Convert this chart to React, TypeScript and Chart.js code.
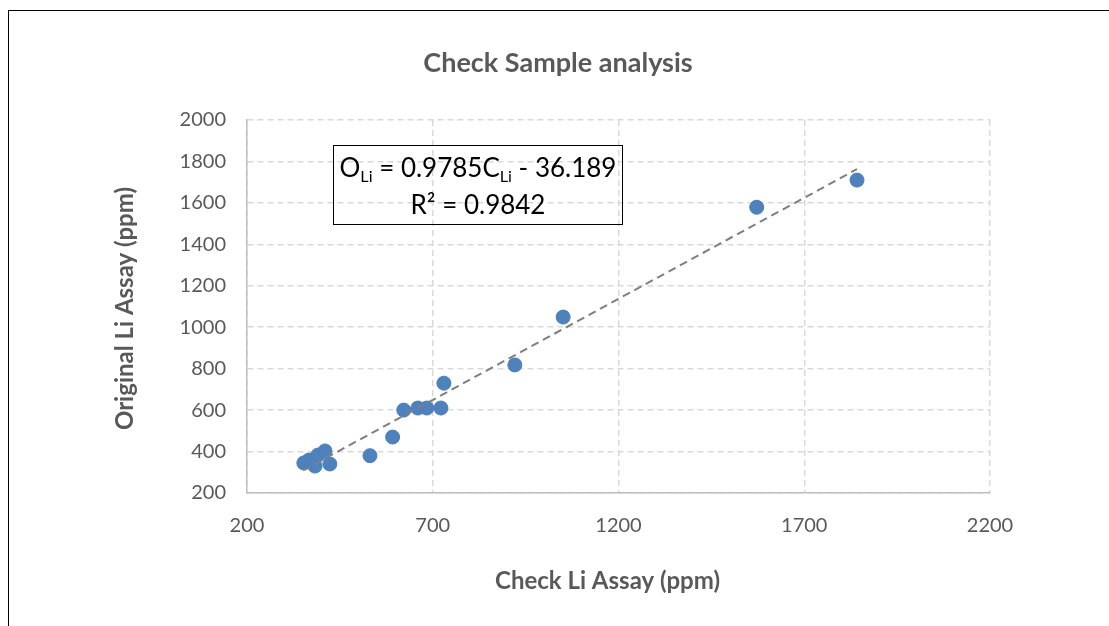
import React, { useEffect, useRef } from 'react';
import { Chart, registerables } from 'chart.js';

Chart.register(...registerables);

// values
const checkLi = [353, 367, 383, 391, 410, 423, 531, 592, 622, 660, 684, 722, 730, 921, 1051, 1572, 1842];
const originalLi = [345, 359, 330, 383, 403, 340, 380, 470, 600, 610, 610, 610, 730, 818, 1049, 1579, 1710];

// trendline end points (as drawn)
const trendX = [351, 1842];
const trendY = [309, 1763];

const xTicks = [200, 700, 1200, 1700, 2200];
const yTicks = [200, 400, 600, 800, 1000, 1200, 1400, 1600, 1800, 2000];

const chartTitle = 'Check Sample analysis';
const xTitle = 'Check Li Assay (ppm)';
const yTitle = 'Original Li Assay (ppm)';

const FONT = 'Lato, "Open Sans", sans-serif';

const titlesPlugin = {
  id: 'excelTitles',
  afterDraw(chart: Chart) {
    const { ctx, chartArea } = chart;
    ctx.save();
    ctx.fillStyle = '#595959';
    ctx.textAlign = 'center';
    ctx.textBaseline = 'middle';
    ctx.font = `bold 27px ${FONT}`;
    ctx.fillText(chartTitle, 558, 63);
    ctx.font = `bold 24px ${FONT}`;
    ctx.fillText(xTitle, chartArea.left + chartArea.width / 2 - 11, 581);
    ctx.translate(125, chartArea.top + chartArea.height / 2 + 2);
    ctx.rotate(-Math.PI / 2);
    ctx.fillText(yTitle, 0, 0);
    ctx.restore();
  }
};

const App = () => {
  const canvasRef = useRef<HTMLCanvasElement | null>(null);
  const chartRef = useRef<Chart | null>(null);

  useEffect(() => {
    document.body.style.margin = '0';
    document.body.style.overflow = 'hidden';
    const ctx = canvasRef.current!.getContext('2d');
    if (!ctx) return;

    chartRef.current = new Chart(ctx, {
      type: 'scatter',
      data: {
        datasets: [
          {
            type: 'line',
            label: 'Linear trend',
            data: trendX.map((x, i) => ({ x, y: trendY[i] })),
            borderColor: '#7f7f7f',
            borderWidth: 2,
            borderDash: [8, 5],
            pointRadius: 0,
            fill: false,
            order: 0
          },
          {
            label: 'Check samples',
            data: checkLi.map((x, i) => ({ x, y: originalLi[i] })),
            backgroundColor: '#4f81bd',
            borderColor: '#4a7ebb',
            borderWidth: 1,
            pointRadius: 7,
            order: 1
          }
        ]
      },
      options: {
        responsive: false,
        animation: false,
        layout: {
          padding: { left: 0, right: 119, top: 120, bottom: 0 }
        },
        plugins: {
          legend: { display: false },
          title: { display: false },
          tooltip: { enabled: false }
        },
        scales: {
          x: {
            type: 'linear',
            min: 200,
            max: 2200,
            afterBuildTicks: (scale) => {
              scale.ticks = xTicks.map((value) => ({ value }));
            },
            afterFit: (scale) => {
              scale.height = 133;
            },
            grid: {
              color: '#d9d9d9',
              lineWidth: 1.5,
              drawTicks: false
            },
            border: { display: true, color: '#bfbfbf', width: 1.5, dash: [6, 4] },
            ticks: {
              color: '#595959',
              font: { family: FONT, size: 20 },
              padding: 21,
              maxRotation: 0,
              callback: (value) => String(value)
            }
          },
          y: {
            type: 'linear',
            min: 200,
            max: 2000,
            afterBuildTicks: (scale) => {
              scale.ticks = yTicks.map((value) => ({ value }));
            },
            afterFit: (scale) => {
              scale.width = 247;
            },
            grid: {
              color: '#d9d9d9',
              lineWidth: 1.5,
              drawTicks: false
            },
            border: { display: true, color: '#bfbfbf', width: 1.5, dash: [6, 4] },
            ticks: {
              color: '#595959',
              font: { family: FONT, size: 20 },
              padding: 21,
              callback: (value) => String(value)
            }
          }
        }
      },
      plugins: [titlesPlugin]
    });

    return () => {
      if (chartRef.current) chartRef.current.destroy();
    };
  }, []);

  const subStyle: React.CSSProperties = { fontSize: '0.62em', verticalAlign: '-0.3em', lineHeight: 0 };

  return (
    <div style={{ position: 'relative', width: 1109, height: 626, overflow: 'hidden', background: '#fff' }}>
      <canvas ref={canvasRef} width='1109' height='626' style={{ position: 'absolute', left: 0, top: 0 }}></canvas>
      {/* chart frame, cropped on the right and bottom */}
      <div
        style={{
          position: 'absolute',
          left: 8,
          top: 10,
          width: 1200,
          height: 700,
          borderTop: '1.5px solid #000',
          borderLeft: '1.5px solid #000',
          pointerEvents: 'none'
        }}
      />
      {/* trendline label */}
      <div
        style={{
          position: 'absolute',
          left: 333,
          top: 145,
          width: 290,
          height: 80,
          boxSizing: 'border-box',
          border: '1.5px solid #000',
          fontFamily: FONT,
          fontSize: 26,
          lineHeight: '37px',
          textAlign: 'center',
          color: '#000',
          paddingTop: 3
        }}
      >
        <div>
          O<span style={subStyle}>Li</span> = 0.9785C<span style={subStyle}>Li</span> - 36.189
        </div>
        <div>R² = 0.9842</div>
      </div>
    </div>
  );
};

export default App;
